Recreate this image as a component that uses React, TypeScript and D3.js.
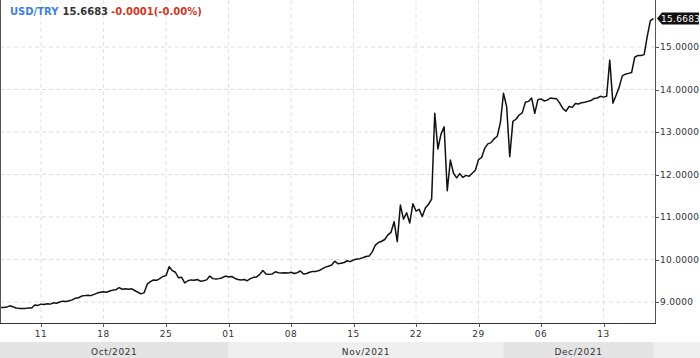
import React from "react";
import * as d3 from "d3";

// ---- data (USD/TRY, 6-hour samples over trading days, starting Tue 5 Oct 2021 18:00) ----
const startTime = new Date(2021, 9, 5, 18, 0, 0);
const stepHours = 6;
const symbol = "USD/TRY";
const lastPrice = "15.6683";
const change = "-0.0001(-0.00%)";
const yTicks = [9, 10, 11, 12, 13, 14, 15];
const monthLabels = ["Oct/2021", "Nov/2021", "Dec/2021"];
const prices = [
  8.87, 8.87, 8.88, 8.91, 8.89, 8.86, 8.85, 8.85, 8.85, 8.86,
  8.86, 8.93, 8.92, 8.95, 8.94, 8.96, 8.95, 8.98, 8.97, 9.0,
  9.02, 9.01, 9.03, 9.05, 9.09, 9.1, 9.14, 9.15, 9.16, 9.15,
  9.18, 9.21, 9.23, 9.24, 9.23, 9.26, 9.28, 9.29, 9.34, 9.3,
  9.31, 9.3, 9.31, 9.27, 9.23, 9.19, 9.22, 9.42, 9.48, 9.52,
  9.51, 9.55, 9.6, 9.62, 9.83, 9.74, 9.7, 9.57, 9.58, 9.45,
  9.5, 9.52, 9.51, 9.53, 9.49, 9.5, 9.52, 9.61, 9.55, 9.54,
  9.55, 9.57, 9.61, 9.59, 9.6, 9.56, 9.53, 9.52, 9.53, 9.5,
  9.55, 9.58, 9.59, 9.65, 9.74, 9.66, 9.65, 9.66, 9.71, 9.69,
  9.68, 9.69, 9.68, 9.7, 9.67, 9.69, 9.73, 9.66, 9.67, 9.7,
  9.72, 9.72, 9.74, 9.78, 9.82, 9.84, 9.87, 9.96, 9.9, 9.91,
  9.93, 9.97, 9.95, 9.99, 10.01, 10.02, 10.04, 10.07, 10.08, 10.18,
  10.34, 10.4, 10.43, 10.47, 10.58, 10.64, 10.89, 10.42, 11.28, 10.95,
  11.1, 10.86, 11.31, 11.14, 11.18, 11.01, 11.21, 11.3, 11.42, 13.44,
  12.6, 12.95, 13.12, 11.62, 12.34, 12.03, 11.92, 12.02, 11.93, 11.98,
  11.96, 12.03, 12.1, 12.35, 12.4, 12.62, 12.72, 12.75, 12.84, 12.9,
  13.22, 13.91, 13.6, 12.42, 13.25, 13.3, 13.4, 13.45, 13.7, 13.72,
  13.8, 13.44, 13.76, 13.78, 13.73, 13.75, 13.8, 13.79, 13.78, 13.68,
  13.55, 13.49, 13.6, 13.58, 13.67, 13.66, 13.69, 13.7, 13.72, 13.74,
  13.79, 13.8, 13.84, 13.82, 13.84, 14.69, 13.68, 13.86, 14.05, 14.32,
  14.36, 14.38, 14.4, 14.76, 14.8, 14.8, 14.82, 15.25, 15.62, 15.6683,
];

// build trading-time timestamps (weekends skipped)
function buildDates(n: number): Date[] {
  const out: Date[] = [];
  let t = new Date(startTime);
  while (out.length < n) {
    const day = t.getDay();
    if (day !== 0 && day !== 6) out.push(new Date(t));
    t = new Date(t.getTime() + stepHours * 3600 * 1000);
  }
  return out;
}

const W = 700;
const H = 358;
const plotLeft = 0;
const plotRight = 655;
const plotTop = 0;
const plotBottom = 323;
const FONT = "DejaVu Sans, sans-serif";

export default function App() {
  const dates = buildDates(prices.length);
  const x = d3.scaleLinear().domain([0, prices.length - 1]).range([0.375, 653.5]);
  const y = d3.scaleLinear().domain([9, 15]).range([302, 47]);

  const line = d3
    .line<number>()
    .x((_, i) => x(i))
    .y((d) => y(d))
    .curve(d3.curveLinear);

  // Monday 00:00 ticks
  const mondayIdx: number[] = [];
  dates.forEach((d, i) => {
    if (d.getDay() === 1 && d.getHours() === 0) mondayIdx.push(i);
  });
  // month starts
  const monthStartIdx: number[] = [];
  dates.forEach((d, i) => {
    if (i > 0 && d.getMonth() !== dates[i - 1].getMonth()) monthStartIdx.push(i);
  });
  const bandEdges = [plotLeft, ...monthStartIdx.map((i) => x(i)), x(prices.length - 1)];
  const fmt = d3.timeFormat("%d");

  const lastY = y(prices[prices.length - 1]);

  return (
    <svg
      width={W}
      height={H}
      style={{ position: "fixed", left: 0, top: 0, background: "#fff" }}
      fontFamily={FONT}
    >
      <rect x={0} y={0} width={W} height={H} fill="#fff" />
      {/* bottom month bands */}
      <rect x={0} y={342} width={W} height={16} fill="#efefef" />
      {monthLabels.map((m, k) => {
        const x0 = bandEdges[k];
        const x1 = bandEdges[k + 1];
        return (
          <g key={m}>
            <rect x={x0} y={342} width={x1 - x0} height={16} fill={k % 2 === 0 ? "#e4e4e4" : "#efefef"} />
            <text x={(x0 + x1) / 2} y={354.5} textAnchor="middle" fontSize={9} fill="#333" letterSpacing={0.6}>
              {m}
            </text>
          </g>
        );
      })}

      {/* grid */}
      {yTicks.map((t) => (
        <line key={"gy" + t} x1={plotLeft} x2={plotRight} y1={y(t)} y2={y(t)} stroke="#dcdcdc" strokeDasharray="4,3" />
      ))}
      {mondayIdx.map((i) => (
        <line key={"gx" + i} x1={x(i)} x2={x(i)} y1={plotTop} y2={plotBottom} stroke="#e2e2e2" strokeDasharray="4,3" />
      ))}

      {/* price line */}
      <path d={line(prices) || ""} fill="none" stroke="#111" strokeWidth={1.5} strokeLinejoin="round" />

      {/* axes */}
      <line x1={plotLeft + 0.5} x2={plotLeft + 0.5} y1={plotTop} y2={plotBottom} stroke="#555" />
      <line x1={plotRight + 0.5} x2={plotRight + 0.5} y1={plotTop} y2={plotBottom + 0.5} stroke="#555" />
      <line x1={plotLeft} x2={plotRight + 1} y1={plotBottom + 0.5} y2={plotBottom + 0.5} stroke="#333" />
      {yTicks.map((t) => (
        <g key={"ty" + t}>
          <line x1={plotRight} x2={plotRight + 4} y1={Math.round(y(t)) + 0.5} y2={Math.round(y(t)) + 0.5} stroke="#555" />
          <text x={plotRight + 5} y={y(t)} dy="0.35em" fontSize={9} fill="#333" letterSpacing={0.3}>
            {d3.format(".4f")(t)}
          </text>
        </g>
      ))}
      {mondayIdx.map((i) => (
        <g key={"tx" + i}>
          <line x1={Math.round(x(i)) + 0.5} x2={Math.round(x(i)) + 0.5} y1={plotBottom} y2={plotBottom + 4} stroke="#555" />
          <text x={x(i)} y={337} textAnchor="middle" fontSize={9} fill="#333" letterSpacing={0.6}>
            {fmt(dates[i])}
          </text>
        </g>
      ))}

      {/* last price tag */}
      <path
        d={`M${plotRight + 2},${lastY} L${plotRight + 7},${lastY - 6} L${W - 1},${lastY - 6} L${W - 1},${lastY + 6} L${plotRight + 7},${lastY + 6} Z`}
        fill="#111"
      />
      <text x={plotRight + 6} y={lastY} dy="0.35em" fontSize={9} fill="#fff" letterSpacing={0.3}>
        {lastPrice}
      </text>

      {/* legend */}
      <text x={10} y={15} fontSize={10} fontWeight="bold">
        <tspan fill="#3f7fdc">{symbol}</tspan>
        <tspan fill="#333" dx={4}>{lastPrice}</tspan>
        <tspan fill="#d4351c" dx={3}>{change}</tspan>
      </text>
    </svg>
  );
}
